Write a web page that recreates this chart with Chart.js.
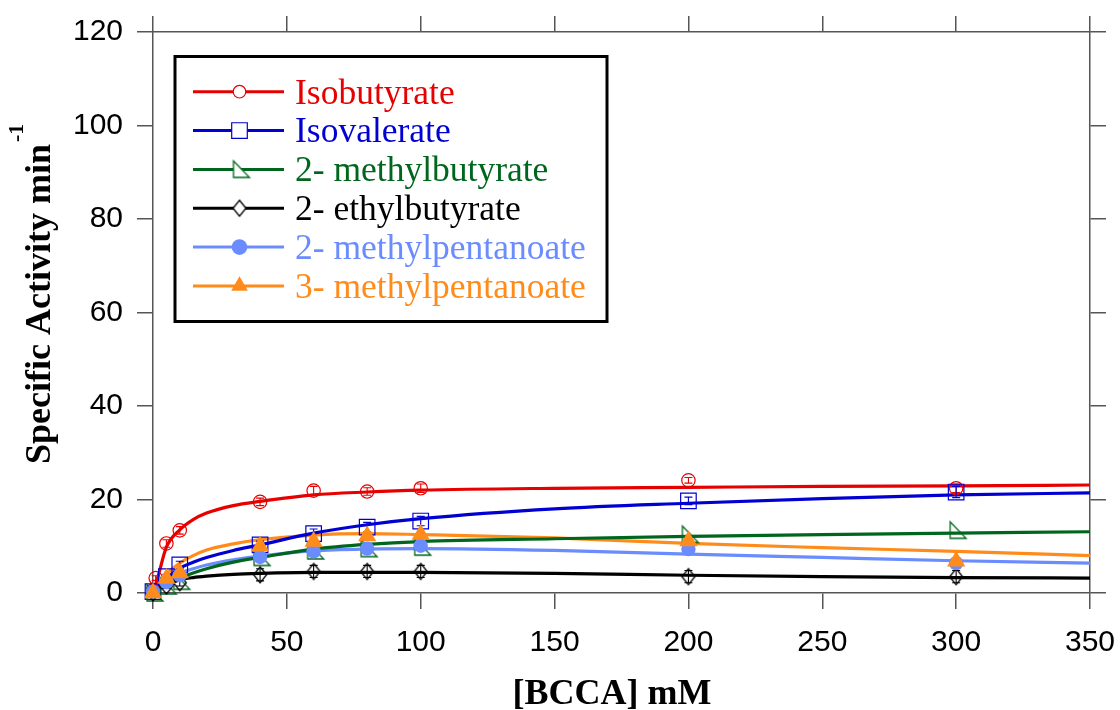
<!DOCTYPE html>
<html><head><meta charset="utf-8">
<script src="https://cdn.jsdelivr.net/npm/chart.js@4/dist/chart.umd.min.js"></script>
<style>html,body{margin:0;padding:0;background:#fff}#wrap{width:1120px;height:710px}</style>
</head><body><div id="wrap"><canvas id="c" width="1120" height="710"></canvas></div>
<script>
// ---- data ----
const seriesNames = ['Isobutyrate', 'Isovalerate', '2- methylbutyrate', '2- ethylbutyrate', '2- methylpentanoate', '3- methylpentanoate'];
const seriesColors = ['#e60000', '#0000d2', '#00661e', '#000000', '#6a8cff', '#ff8c1a'];

const xAxisTitle = '[BCCA] mM';
const yAxisTitle = 'Specific Activity min';
const yAxisTitleSup = '-1';

const isobutyrateX = [0, 1, 5, 10, 40, 60, 80, 100, 200, 300];
const concX = [0, 5, 10, 40, 60, 80, 100, 200, 300];

const isobutyrate = [0.5, 3.2, 10.6, 13.4, 19.5, 21.9, 21.7, 22.4, 24.1, 22.4];
const isobutyrateErr = [0.3, 0.5, 0.8, 0.8, 0.8, 0.9, 0.8, 0.9, 0.6, 0.9];
const isovalerate = [0.3, 3.5, 6.0, 10.3, 12.7, 14.1, 15.4, 19.7, 21.6];
const isovalerateErr = [0.3, 0.5, 0.8, 0.8, 1.0, 1.0, 1.0, 0.8, 1.2];
const methylbutyrate = [0, 1.5, 2.5, 7.6, 9.0, 9.5, 9.8, 12.5, 13.4];
const ethylbutyrate = [0, 1.5, 2.2, 3.9, 4.6, 4.6, 4.6, 3.5, 3.5];
const ethylbutyrateErr = [0.3, 0.5, 0.7, 1.3, 1.3, 1.3, 1.3, 1.3, 1.3];
const methylpentanoate2 = [0.3, 2.3, 3.8, 7.7, 8.9, 9.5, 10.1, 9.4, 6.4];
const methylpentanoate3 = [0, 3.1, 4.3, 10.0, 11.0, 12.2, 12.5, 11.1, 6.8];

// fitted curves
const fitX = [0, 2, 5, 10, 15, 20, 30, 40, 60, 80, 100, 150, 200, 250, 300, 350];
const isobutyrateFit = [0, 3.8, 9.8, 13.5, 15.7, 17.1, 18.7, 19.6, 21.0, 21.6, 22.0, 22.4, 22.6, 22.8, 22.9, 23.1];
const isovalerateFit = [0, 1.3, 3.0, 5.3, 6.6, 7.6, 9.1, 10.3, 12.8, 14.6, 15.9, 18.0, 19.2, 20.2, 21.0, 21.4];
const methylbutyrateFit = [0, 0.8, 1.8, 3.2, 4.3, 5.2, 6.6, 7.6, 9.4, 10.4, 11.0, 11.6, 12.1, 12.5, 12.8, 13.1];
const ethylbutyrateFit = [0, 0.8, 1.8, 2.8, 3.3, 3.6, 4.0, 4.2, 4.4, 4.4, 4.4, 4.2, 3.8, 3.5, 3.3, 3.2];
const methylpentanoate2Fit = [0, 1.1, 2.5, 4.2, 5.2, 6.0, 7.1, 7.9, 9.0, 9.4, 9.5, 9.1, 8.3, 7.6, 6.9, 6.4];
const methylpentanoate3Fit = [0, 1.8, 4.0, 6.4, 8.0, 9.2, 10.5, 11.4, 12.4, 12.7, 12.5, 11.8, 10.6, 9.7, 8.9, 8.0];

const xMin = 0, xMax = 350, xStep = 50;
const yMin = 0, yMax = 120, yStep = 20;

// ---- custom marker images ----
function makeMarker(kind, color, fill) {
  const c = document.createElement('canvas');
  c.width = 36; c.height = 36;
  const g = c.getContext('2d');
  const cx = 18, cy = 18;
  g.lineWidth = 1.3; g.strokeStyle = color; g.fillStyle = fill;
  g.beginPath();
  if (kind === 'rtri') {
    g.moveTo(cx - 6, cy - 8.5); g.lineTo(cx + 10, cy + 8); g.lineTo(cx - 6, cy + 8); g.closePath();
  } else if (kind === 'diamond') {
    g.moveTo(cx, cy - 8); g.lineTo(cx + 6.5, cy); g.lineTo(cx, cy + 8); g.lineTo(cx - 6.5, cy); g.closePath();
  }
  if (fill !== 'none') g.fill();
  g.stroke();
  return c;
}
const greenTri = makeMarker('rtri', seriesColors[2], 'none');
const blackDia = makeMarker('diamond', seriesColors[3], 'none');
const greenTriL = makeMarker('rtri', seriesColors[2], '#fff');
const blackDiaL = makeMarker('diamond', seriesColors[3], '#fff');

const pts = (xs, ys) => xs.map((x, i) => ({ x: x, y: ys[i] }));

const fitSets = [isobutyrateFit, isovalerateFit, methylbutyrateFit, ethylbutyrateFit, methylpentanoate2Fit, methylpentanoate3Fit];
const curveDatasets = fitSets.map((ys, i) => ({
  label: seriesNames[i] + ' fit',
  data: pts(fitX, ys),
  showLine: true,
  borderColor: seriesColors[i],
  borderWidth: 3.2,
  pointRadius: 0,
  cubicInterpolationMode: 'monotone',
  order: 20 + i,
  clip: false
}));

const transparent = 'rgba(0,0,0,0)';
const pointDatasets = [
  { label: seriesNames[0], data: pts(isobutyrateX, isobutyrate), errors: isobutyrateErr,
    pointStyle: 'circle', pointRadius: 6.7, borderColor: seriesColors[0], backgroundColor: transparent, borderWidth: 1.2, order: 15 },
  { label: seriesNames[1], data: pts(concX, isovalerate), errors: isovalerateErr,
    pointStyle: 'rect', pointRadius: 11, borderColor: seriesColors[1], backgroundColor: transparent, borderWidth: 1.2, order: 14 },
  { label: seriesNames[2], data: pts(concX, methylbutyrate),
    pointStyle: greenTri, pointRadius: 8, borderColor: seriesColors[2], backgroundColor: transparent, order: 13 },
  { label: seriesNames[3], data: pts(concX, ethylbutyrate), errors: ethylbutyrateErr,
    pointStyle: blackDia, pointRadius: 8, borderColor: seriesColors[3], backgroundColor: transparent, order: 12 },
  { label: seriesNames[4], data: pts(concX, methylpentanoate2),
    pointStyle: 'circle', pointRadius: 7.2, borderColor: seriesColors[4], backgroundColor: seriesColors[4], borderWidth: 0, order: 11 },
  { label: seriesNames[5], data: pts(concX, methylpentanoate3),
    pointStyle: 'triangle', pointRadius: 10.5, borderColor: seriesColors[5], backgroundColor: seriesColors[5], borderWidth: 0, order: 10 }
].map(d => Object.assign({ showLine: false, clip: false }, d));

// ---- plugins ----
const errorBarPlugin = {
  id: 'errbars',
  afterDatasetDraw(chart, args) {
    const ds = chart.data.datasets[args.index];
    if (!ds.errors) return;
    const ctx = chart.ctx, ys = chart.scales.y;
    ctx.save();
    ctx.strokeStyle = ds.borderColor; ctx.lineWidth = 1.1;
    args.meta.data.forEach((pt, i) => {
      const e = ds.errors[i];
      if (!e) return;
      const v = ds.data[i].y;
      const t = ys.getPixelForValue(v + e), b = ys.getPixelForValue(v - e);
      ctx.beginPath();
      ctx.moveTo(pt.x, t); ctx.lineTo(pt.x, b);
      ctx.moveTo(pt.x - 4, t); ctx.lineTo(pt.x + 4, t);
      ctx.moveTo(pt.x - 4, b); ctx.lineTo(pt.x + 4, b);
      ctx.stroke();
    });
    ctx.restore();
  }
};

const serif = "'Liberation Serif', 'Times New Roman', serif";
const sans = "'Liberation Sans', Arial, Helvetica, sans-serif";

const titlesPlugin = {
  id: 'titles',
  afterDraw(chart) {
    const ctx = chart.ctx;
    ctx.save();
    ctx.fillStyle = '#000';
    ctx.font = 'bold 36px ' + serif;
    ctx.textAlign = 'center'; ctx.textBaseline = 'alphabetic';
    ctx.fillText(xAxisTitle, 612, 704);
    // y title rotated
    ctx.translate(50, 464);
    ctx.rotate(-Math.PI / 2);
    ctx.textAlign = 'left';
    ctx.font = 'bold 36px ' + serif;
    ctx.fillText(yAxisTitle, 0, 0);
    const w = ctx.measureText(yAxisTitle).width;
    ctx.font = 'bold 22px ' + serif;
    ctx.fillText(yAxisTitleSup, w + 2, -27);
    ctx.restore();
  }
};

const legendMarkers = [
  { style: 'circle', r: 6.3 },
  { style: 'rect', half: 7.8 },
  { style: 'img', img: greenTriL },
  { style: 'img', img: blackDiaL },
  { style: 'fcircle', r: 7.8 },
  { style: 'ftri', r: 9.6 }
];

const legendPlugin = {
  id: 'boxLegend',
  afterDraw(chart) {
    const ctx = chart.ctx;
    const bx = 175, by = 56.5, bw = 432, bh = 265;
    ctx.save();
    ctx.fillStyle = '#fff';
    ctx.fillRect(bx, by, bw, bh);
    ctx.lineWidth = 3; ctx.strokeStyle = '#000';
    ctx.strokeRect(bx, by, bw, bh);
    const rowY0 = 91.7, rowDy = 38.85;
    seriesNames.forEach((name, i) => {
      const y = rowY0 + i * rowDy;
      const col = seriesColors[i];
      ctx.strokeStyle = col; ctx.lineWidth = 3;
      ctx.beginPath(); ctx.moveTo(193, y); ctx.lineTo(284, y); ctx.stroke();
      const mx = 239.5, m = legendMarkers[i];
      ctx.lineWidth = 1.2;
      ctx.beginPath();
      if (m.style === 'circle') {
        ctx.arc(mx, y, m.r, 0, Math.PI * 2);
        ctx.fillStyle = '#fff'; ctx.fill(); ctx.stroke();
      } else if (m.style === 'rect') {
        ctx.rect(mx - m.half, y - m.half, 2 * m.half, 2 * m.half);
        ctx.fillStyle = '#fff'; ctx.fill(); ctx.stroke();
      } else if (m.style === 'img') {
        ctx.drawImage(m.img, mx - m.img.width / 2, y - m.img.height / 2);
      } else if (m.style === 'fcircle') {
        ctx.arc(mx, y, m.r, 0, Math.PI * 2);
        ctx.fillStyle = col; ctx.fill();
      } else if (m.style === 'ftri') {
        const r = m.r;
        ctx.moveTo(mx, y - r);
        ctx.lineTo(mx + r * Math.sin(2 * Math.PI / 3), y + r / 2);
        ctx.lineTo(mx - r * Math.sin(2 * Math.PI / 3), y + r / 2);
        ctx.closePath();
        ctx.fillStyle = col; ctx.fill();
      }
      ctx.fillStyle = col;
      ctx.font = '35.5px ' + serif;
      ctx.textAlign = 'left'; ctx.textBaseline = 'alphabetic';
      ctx.fillText(name, 295, y + 11.8);
    });
    ctx.restore();
  }
};

// ---- chart ----
const axisColor = '#555';
const gridCommon = { display: true, drawOnChartArea: false, drawTicks: true, tickLength: 16, color: axisColor, lineWidth: 1.5 };
const borderCommon = { display: true, color: axisColor, width: 1.5 };
const tickFont = { family: sans, size: 30 };
const noPad = s => { s.paddingLeft = 0; s.paddingRight = 0; s.paddingTop = 0; s.paddingBottom = 0; };

new Chart(document.getElementById('c'), {
  type: 'scatter',
  data: { datasets: pointDatasets.concat(curveDatasets) },
  options: {
    responsive: false,
    animation: false,
    layout: { padding: 0 },
    plugins: { legend: { display: false }, tooltip: { enabled: false }, title: { display: false } },
    scales: {
      x: {
        type: 'linear', position: 'bottom', min: xMin, max: xMax,
        ticks: { stepSize: xStep, color: '#000', font: tickFont, padding: 16, maxRotation: 0 },
        grid: gridCommon, border: borderCommon,
        afterFit(s) { s.height = 117; noPad(s); }
      },
      x2: {
        type: 'linear', position: 'top', min: xMin, max: xMax,
        ticks: { stepSize: xStep, display: false },
        grid: gridCommon, border: borderCommon,
        afterFit(s) { s.height = 32; noPad(s); }
      },
      y: {
        type: 'linear', position: 'left', min: yMin, max: yMax,
        ticks: { stepSize: yStep, color: '#000', font: tickFont, padding: 14 },
        grid: gridCommon, border: borderCommon,
        afterFit(s) { s.width = 153; noPad(s); }
      },
      y2: {
        type: 'linear', position: 'right', min: yMin, max: yMax,
        ticks: { stepSize: yStep, display: false },
        grid: gridCommon, border: borderCommon,
        afterFit(s) { s.width = 30; noPad(s); }
      }
    }
  },
  plugins: [errorBarPlugin, titlesPlugin, legendPlugin]
});
</script>
</body></html>
